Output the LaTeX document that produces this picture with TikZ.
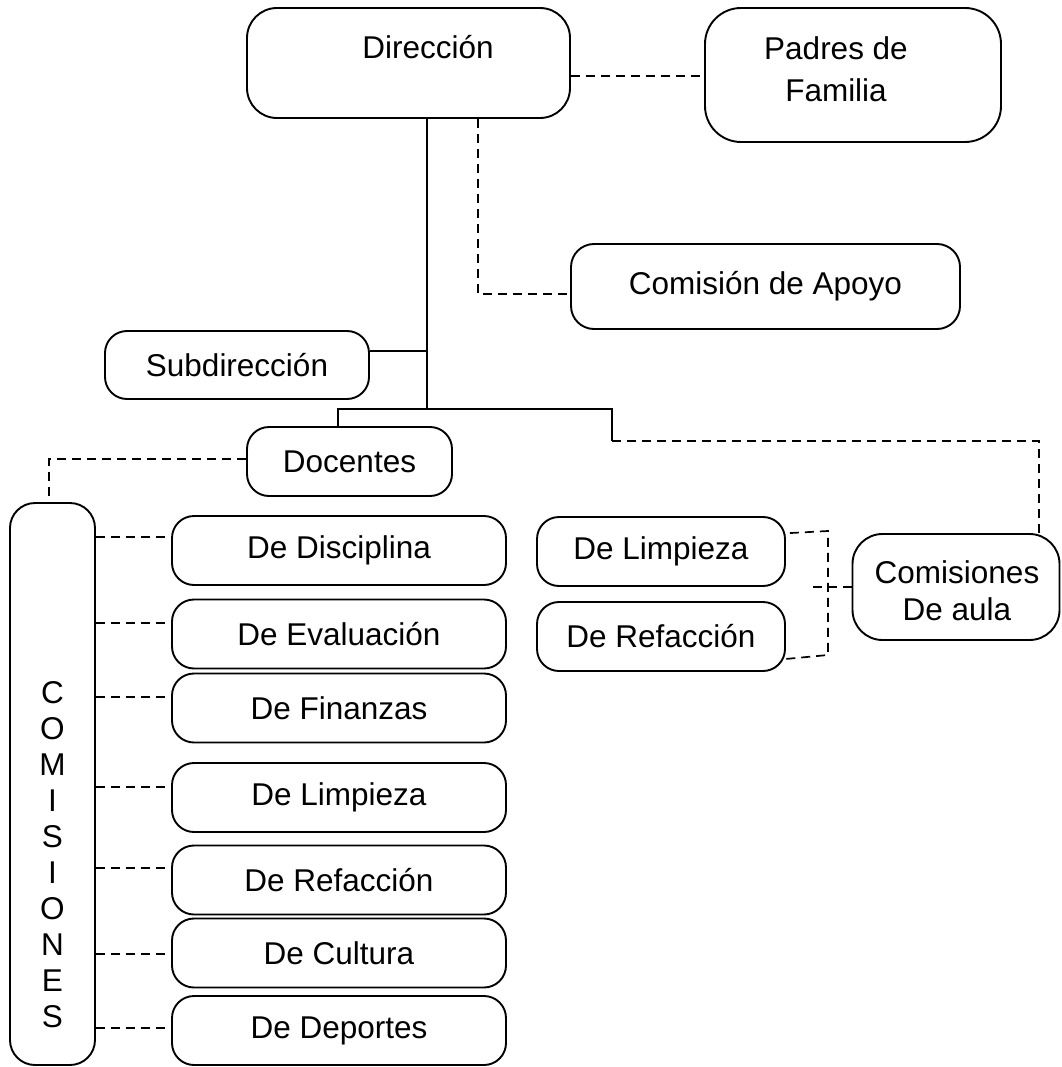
\documentclass[tikz,border=0pt]{standalone}
\usepackage{fontspec}
\setmainfont{Liberation Sans}
\usetikzlibrary{calc}
\begin{document}
\begin{tikzpicture}[x=1pt,y=-1pt,
  box/.style={draw, line width=1.9pt, inner sep=0pt, align=center,
    font=\fontsize{31.5}{38}\selectfont},
  solidline/.style={line width=1.7pt},
  dashline/.style={line width=1.7pt, dash pattern=on 9pt off 6pt}]
\useasboundingbox (0,0) rectangle (1061,1067);
\tikzset{every label/.style={font=\fontsize{31.5}{38}\selectfont, inner sep=0pt, align=center}}
% top boxes
\node[box, rounded corners=30pt, minimum width=323pt, minimum height=110pt,
  label={[xshift=19.5pt,yshift=16pt]center:Dirección}] (dir) at (408.5,63) {};
\node[box, rounded corners=36pt, minimum width=296pt, minimum height=134pt,
  label={[xshift=-17pt,yshift=6pt,font=\fontsize{31.5}{42}\selectfont]center:Padres de\\Familia}] (pad) at (853,75) {};
\node[box, rounded corners=23pt, minimum width=389pt, minimum height=85pt] (apo) at (765.5,286.5) {Comisión de Apoyo};
\node[box, rounded corners=22pt, minimum width=264pt, minimum height=68pt] (sub) at (237,365) {Subdirección};
\node[box, rounded corners=22pt, minimum width=205pt, minimum height=69pt] (doc) at (349.5,461.5) {Docentes};
% COMISIONES vertical box
\node[box, rounded corners=25pt, minimum width=85pt, minimum height=562pt,
  label={[yshift=-71pt,font=\fontsize{31.5}{36}\selectfont]center:C\\O\\M\\I\\S\\I\\O\\N\\E\\S}] (com) at (52.5,784) {};
% left column of committees
\foreach \n/\y/\t in {c1/550.5/De Disciplina, c2/634/De Evaluación, c3/708/De Finanzas,
  c4/797.5/De Limpieza, c5/880/De Refacción, c6/953/De Cultura, c7/1030.5/De Deportes}
  \node[box, rounded corners=22pt, minimum width=334pt, minimum height=69pt] (\n) at (339,\y) {\t};
% right group
\node[box, rounded corners=22pt, minimum width=248pt, minimum height=69pt] (rl) at (661,551.5) {De Limpieza};
\node[box, rounded corners=22pt, minimum width=248pt, minimum height=69pt] (rr) at (661,636.5) {De Refacción};
\node[box, rounded corners=30pt, minimum width=207pt, minimum height=106pt,
  label={[xshift=1pt,yshift=-4pt,font=\fontsize{31.5}{37}\selectfont]center:Comisiones\\De aula}] (aula) at (956,587) {};
% junction coordinates
\coordinate (tr) at (427,409);
\coordinate (dl) at (338,409);
\coordinate (j2) at (612,409);
\coordinate (j3) at (612,441);
\coordinate (j4) at (1039,441);
\coordinate (sj) at (427,351);
\coordinate (ad) at (478,294);
\coordinate (pd) at (0,76);
\coordinate (dj) at (49,459);
\coordinate (rv) at (828,531);
\coordinate (rb) at (828,655);
% solid connectors
\draw[solidline] (dir.south -| tr) -- (tr);
\draw[solidline] (sub.east |- sj) -- (sj);
\draw[solidline] (doc.north -| dl) -- (dl) -- (j2) -- (j3);
% dashed connectors
\draw[dashline] (j3) -- (j4) -- (aula.north -| j4);
\draw[dashline] (dir.east |- pd) -- (pad.west |- pd);
\draw[dashline] (dir.south -| ad) -- (ad) -- (apo.west |- ad);
\draw[dashline] (doc.west |- dj) -- (dj) -- (com.north -| dj);
\foreach \n/\y in {c1/537, c2/623, c3/697, c4/787, c5/868, c6/954, c7/1028}
  \draw[dashline] (com.east |- 0,\y) -- (\n.west |- 0,\y);
\draw[dashline] ($(rl.north east)+(4,17)$) -- (rv) -- (rb) -- ($(rr.south east)+(0,-13)$);
\draw[dashline] (aula.west) -- ++(-39,0);
\end{tikzpicture}
\end{document}
